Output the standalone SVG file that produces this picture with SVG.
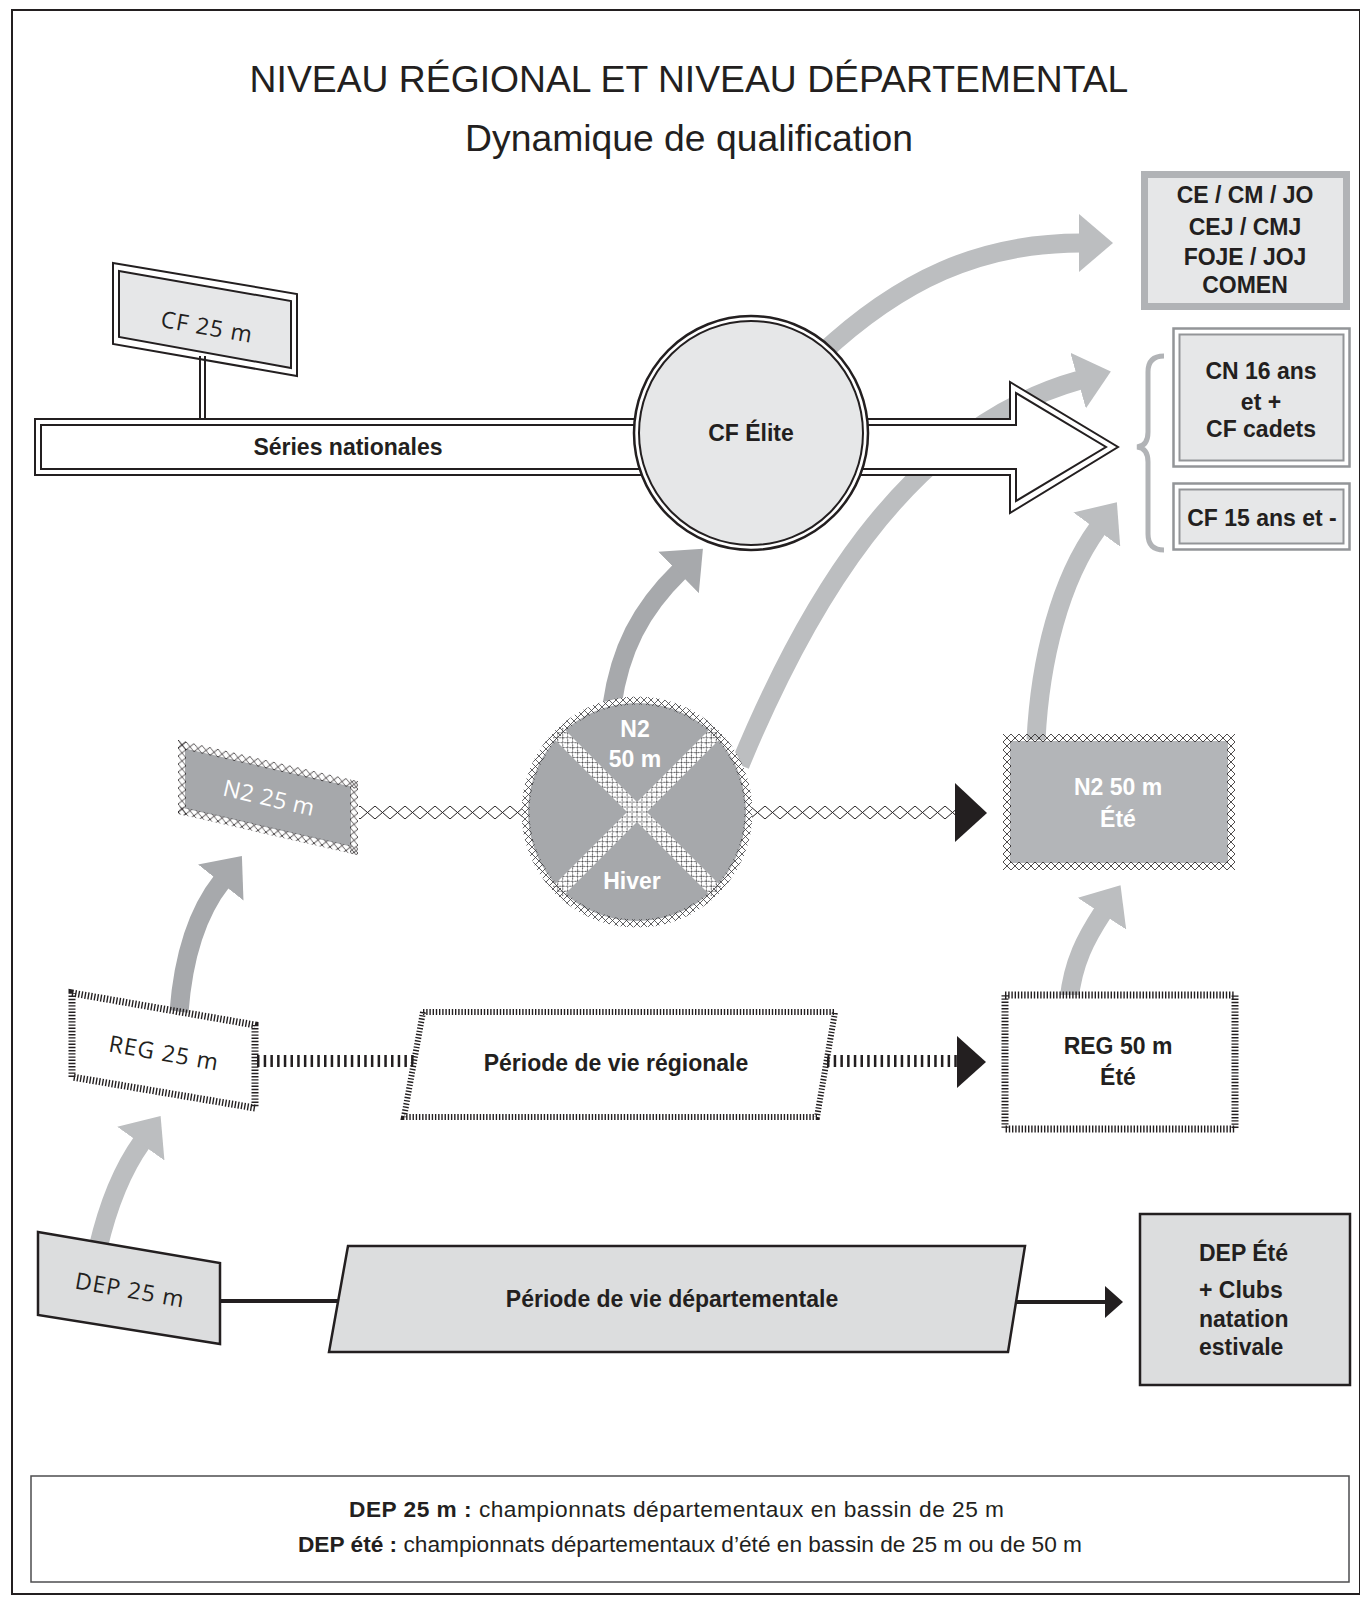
<svg xmlns="http://www.w3.org/2000/svg" width="1360" height="1598" viewBox="0 0 1360 1598">
<style>
.t{font-family:"Liberation Sans",Arial,sans-serif;fill:#231f20;text-anchor:middle}
.lb{font-family:"Liberation Sans",Arial,sans-serif;font-weight:bold;font-size:23px;fill:#231f20;text-anchor:middle}
.lw{font-family:"Liberation Sans",Arial,sans-serif;font-weight:bold;font-size:23px;fill:#ffffff;text-anchor:middle}
.hs{font-family:"Open Sans","DejaVu Sans",sans-serif;font-size:23px;fill:#231f20;text-anchor:middle;letter-spacing:1px}
.ga{fill:none;stroke:#bcbec0;stroke-width:19;marker-end:url(#headL)}
.gd{fill:none;stroke:#a7a9ac;stroke-width:19;marker-end:url(#headD)}
.blk{stroke:#231f20;stroke-width:2;fill:none}
.tick{stroke:#231f20;stroke-width:7;stroke-dasharray:1.4 1.8;fill:#fff}
.tickc{stroke:#231f20;stroke-width:12;stroke-dasharray:2.5 4.2;fill:none}
.head{fill:#231f20}
.lg{font-family:"Liberation Sans",Arial,sans-serif;font-size:22.7px;fill:#231f20}
</style>
<defs>
<marker id="headL" viewBox="0 0 34 58" refX="2" refY="29" markerWidth="34" markerHeight="58" markerUnits="userSpaceOnUse" orient="auto"><path d="M0,0 L34,29 L0,58 Z" fill="#bcbec0"/></marker>
<marker id="headD" viewBox="0 0 34 58" refX="2" refY="29" markerWidth="34" markerHeight="58" markerUnits="userSpaceOnUse" orient="auto"><path d="M0,0 L34,29 L0,58 Z" fill="#a7a9ac"/></marker>
<pattern id="lat8" width="8" height="8" patternUnits="userSpaceOnUse"><path d="M0,0 L8,8 M8,0 L0,8" stroke="#231f20" stroke-width="0.8" fill="none"/></pattern>
<pattern id="lat7" width="7" height="7" patternUnits="userSpaceOnUse"><path d="M0,0 L7,7 M7,0 L0,7" stroke="#3a3a3c" stroke-width="0.8" fill="none"/></pattern>
<pattern id="lat15" width="15" height="13" patternUnits="userSpaceOnUse"><path d="M0,0 L15,13 M15,0 L0,13" stroke="#231f20" stroke-width="1" fill="none"/></pattern>
</defs>

<rect x="12" y="10" width="1348" height="1584" fill="#fff" stroke="#231f20" stroke-width="2"/>

<g id="title">
<text class="t" x="689" y="92" font-size="37.3">NIVEAU RÉGIONAL ET NIVEAU DÉPARTEMENTAL</text>
<text class="t" x="689" y="151" font-size="37.3">Dynamique de qualification</text>
</g>

<g id="connectors">
<path class="ga" d="M820,355 C900,280 980,243 1081,243"/>
<path class="ga" d="M740,765 C800,620 900,430 1080,380"/>
<path class="gd" d="M612,705 C620,650 640,610 680,571"/>
<path class="ga" d="M1036,740 C1040,660 1060,580 1098,528"/>
<path class="ga" d="M1069,1000 C1073,962 1086,938 1103,912"/>
<path class="gd" d="M179,1012 C183,960 195,915 222,881"/>
<path class="ga" d="M98,1248 C108,1205 122,1170 142,1142"/>
<line x1="200" y1="356" x2="200" y2="420" class="blk"/>
<line x1="205" y1="356" x2="205" y2="420" class="blk"/>
<rect x="359" y="806" width="166" height="13" fill="url(#lat15)"/>
<rect x="752" y="806" width="204" height="13" fill="url(#lat15)"/>
<polygon class="head" points="955,783 987,813 955,842"/>
<line class="tickc" x1="257" y1="1061" x2="414" y2="1061"/>
<line class="tickc" x1="827" y1="1061" x2="957" y2="1061"/>
<polygon class="head" points="957,1036 986,1062 957,1088"/>
<line x1="220" y1="1301" x2="340" y2="1301" stroke="#231f20" stroke-width="4"/>
<line x1="1014" y1="1302" x2="1108" y2="1302" stroke="#231f20" stroke-width="4"/>
<polygon class="head" points="1105,1286 1123,1302 1105,1318"/>
<path d="M1164,356 Q1148,356 1148,372 L1148,432 Q1148,446 1137,447 Q1148,448 1148,462 L1148,534 Q1148,550 1164,550" fill="none" stroke="#b1b3b6" stroke-width="5"/>
</g>

<g id="cf25">
<polygon points="113,263 297,294 297,376 113,344" fill="#fff" class="blk"/>
<polygon points="119,271 291,301 291,368 119,337" fill="#e6e7e8" stroke="#231f20" stroke-width="2"/>
<text class="hs" transform="translate(207 327) rotate(10)" y="8">CF 25 m</text>
</g>

<g id="series-nationales">
<polygon points="35,419 1010,419 1010,382 1118,447 1010,513 1010,475 35,475" fill="#fff" stroke="#231f20" stroke-width="2"/>
<polygon points="41,425 1016,425 1016,393 1106,447 1016,501 1016,469 41,469" fill="#fff" stroke="#231f20" stroke-width="2"/>
<text class="lb" x="348" y="455">Séries nationales</text>
</g>

<g id="cf-elite">
<circle cx="751" cy="433" r="117" fill="#fff" stroke="#231f20" stroke-width="2.5"/>
<circle cx="751" cy="433" r="112" fill="#e6e7e8" stroke="#231f20" stroke-width="2"/>
<text class="lb" x="751" y="441">CF Élite</text>
</g>

<g id="ce-cm-jo">
<rect x="1141" y="171" width="209" height="139" fill="#b1b3b6"/>
<rect x="1148" y="178" width="195" height="125" fill="#e6e7e8"/>
<text class="lb" x="1245" y="203">CE / CM / JO</text>
<text class="lb" x="1245" y="235">CEJ / CMJ</text>
<text class="lb" x="1245" y="265">FOJE / JOJ</text>
<text class="lb" x="1245" y="293">COMEN</text>
</g>

<g id="cn16">
<rect x="1173.5" y="328.5" width="176" height="138" fill="#fff" stroke="#939598" stroke-width="2.5"/>
<rect x="1179.5" y="334.5" width="164" height="126" fill="#e6e7e8" stroke="#939598" stroke-width="2"/>
<text class="lb" x="1261" y="379">CN 16 ans</text>
<text class="lb" x="1261" y="410">et +</text>
<text class="lb" x="1261" y="437">CF cadets</text>
</g>

<g id="cf15">
<rect x="1173.5" y="483.5" width="176" height="66" fill="#fff" stroke="#939598" stroke-width="2.5"/>
<rect x="1179.5" y="489.5" width="164" height="54" fill="#e6e7e8" stroke="#939598" stroke-width="2"/>
<text class="lb" x="1262" y="526">CF 15 ans et -</text>
</g>

<g id="n2-25">
<g transform="translate(178 740) skewY(12.9)">
<rect x="7" y="7" width="166" height="60" fill="#a6a8ab"/>
<rect x="0" y="0" width="180" height="8" fill="url(#lat8)"/>
<rect x="0" y="66" width="180" height="8" fill="url(#lat8)"/>
<rect x="0" y="0" width="8" height="74" fill="url(#lat8)"/>
<g transform="translate(172 0)"><rect x="0" y="0" width="8" height="74" fill="url(#lat8)"/></g>
</g>
<text class="hs" style="fill:#fff;letter-spacing:0.5px" transform="translate(269 798) rotate(12.9)" y="8">N2 25 m</text>
</g>

<g id="n2-hiver">
<circle cx="637" cy="812" r="115" fill="#fff"/>
<circle cx="637" cy="812" r="109" fill="#a6a8ab"/>
<g transform="translate(637 812) rotate(45)">
<rect x="-112" y="-7" width="224" height="14" fill="#fff"/>
<rect x="-112" y="-7" width="224" height="14" fill="url(#lat7)"/>
</g>
<g transform="translate(637 812) rotate(-45)">
<rect x="-112" y="-7" width="224" height="14" fill="#fff"/>
<rect x="-112" y="-7" width="224" height="14" fill="url(#lat7)"/>
</g>
<circle cx="637" cy="812" r="111.5" fill="none" stroke="url(#lat7)" stroke-width="8"/>
<text class="lw" x="635" y="737">N2</text>
<text class="lw" x="635" y="767">50 m</text>
<text class="lw" x="632" y="889">Hiver</text>
</g>

<g id="n2-ete">
<g transform="translate(1003 734)">
<rect x="7" y="7" width="218" height="122" fill="#b3b5b8"/>
<path d="M0,0 H232 V136 H0 Z M8,8 V128 H224 V8 Z" fill="url(#lat8)" fill-rule="evenodd"/>
</g>
<text class="lw" x="1118" y="795">N2 50 m</text>
<text class="lw" x="1118" y="827">Été</text>
</g>

<g id="reg25">
<polygon class="tick" points="72,993 255,1025 255,1108 72,1077"/>
<text class="hs" transform="translate(164 1053) rotate(10)" y="8">REG 25 m</text>
</g>

<g id="periode-regionale">
<polygon class="tick" style="stroke-width:6" points="423,1012 835,1012 817,1117 404,1117"/>
<text class="lb" x="616" y="1071">Période de vie régionale</text>
</g>

<g id="reg50">
<rect class="tick" x="1005" y="995" width="230" height="134"/>
<text class="lb" x="1118" y="1054">REG 50 m</text>
<text class="lb" x="1118" y="1085">Été</text>
</g>

<g id="dep25">
<polygon points="38,1232 220,1263 220,1344 38,1315" fill="#dcddde" stroke="#231f20" stroke-width="2.5"/>
<text class="hs" transform="translate(130 1290) rotate(10)" y="8">DEP 25 m</text>
</g>

<g id="periode-departementale">
<polygon points="348,1246 1025,1246 1008,1352 329,1352" fill="#dcddde" stroke="#231f20" stroke-width="2.5"/>
<text class="lb" x="672" y="1307">Période de vie départementale</text>
</g>

<g id="dep-ete">
<rect x="1140" y="1214" width="210" height="171" fill="#dcddde" stroke="#231f20" stroke-width="2.5"/>
<text class="lb" style="text-anchor:start" x="1199" y="1261">DEP Été</text>
<text class="lb" style="text-anchor:start" x="1199" y="1298">+ Clubs</text>
<text class="lb" style="text-anchor:start" x="1199" y="1327">natation</text>
<text class="lb" style="text-anchor:start" x="1199" y="1355">estivale</text>
</g>

<g id="legend">
<rect x="31" y="1476" width="1318" height="106" fill="#fff" stroke="#4d4d4f" stroke-width="1.5"/>
<text class="lg" x="349" y="1517" textLength="655" lengthAdjust="spacing"><tspan font-weight="bold">DEP 25 m :</tspan> championnats départementaux en bassin de 25 m</text>
<text class="lg" x="690" y="1552" text-anchor="middle"><tspan font-weight="bold">DEP été :</tspan> championnats départementaux d’été en bassin de 25 m ou de 50 m</text>
</g>
</svg>
